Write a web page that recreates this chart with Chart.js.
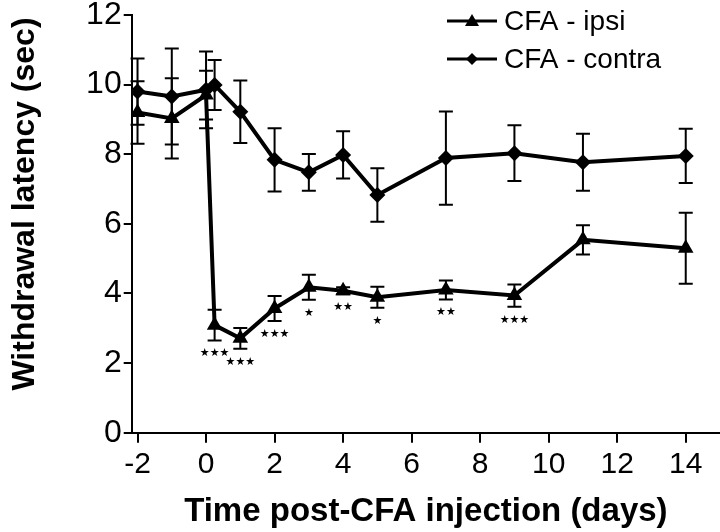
<!DOCTYPE html>
<html>
<head>
<meta charset="utf-8">
<script src="https://cdn.jsdelivr.net/npm/chart.js@4"></script>
<style>
  html, body { margin: 0; padding: 0; background: #fff; }
  canvas { display: block; }
</style>
</head>
<body>
<canvas id="chart" width="720" height="532"></canvas>
<script>
// days relative to CFA injection
const xDays = [-2, -1, 0, 0.25, 1, 2, 3, 4, 5, 7, 9, 11, 14];
const ipsiMean = [9.2, 9.03, 9.7, 3.09, 2.71, 3.57, 4.18, 4.08, 3.89, 4.1, 3.94, 5.54, 5.3];
const ipsiSem = [0.9, 1.15, 0.7, 0.44, 0.3, 0.36, 0.36, 0.1, 0.3, 0.27, 0.32, 0.42, 1.02];
const contraMean = [9.8, 9.66, 9.85, 9.99, 9.22, 7.84, 7.48, 7.98, 6.83, 7.89, 8.03, 7.77, 7.95];
const contraSem = [0.95, 1.38, 1.1, 0.72, 0.9, 0.91, 0.53, 0.68, 0.77, 1.34, 0.8, 0.82, 0.78];
const ipsiStars = ['', '', '', '***', '***', '***', '*', '**', '*', '**', '***', '', ''];
const xTicks = [-2, 0, 2, 4, 6, 8, 10, 12, 14];
const seriesNames = ['CFA - ipsi', 'CFA - contra'];

const FONT = 'Liberation Sans, Arial, Helvetica, sans-serif';

const toPoints = (ys) => xDays.map((x, i) => ({ x, y: ys[i] }));

// error bars + significance stars
const errorBars = {
    id: 'errorBars',
    afterDatasetsDraw(chart) {
        const { ctx, scales: { x, y } } = chart;
        const sets = [[ipsiMean, ipsiSem], [contraMean, contraSem]];
        ctx.save();
        ctx.strokeStyle = '#000';
        ctx.lineWidth = 2;
        sets.forEach(([mean, sem]) => {
            mean.forEach((m, i) => {
                const px = x.getPixelForValue(xDays[i]);
                const top = y.getPixelForValue(m + sem[i]);
                const bot = y.getPixelForValue(m - sem[i]);
                ctx.beginPath();
                ctx.moveTo(px, top); ctx.lineTo(px, bot);
                ctx.moveTo(px - 7, top); ctx.lineTo(px + 7, top);
                ctx.moveTo(px - 7, bot); ctx.lineTo(px + 7, bot);
                ctx.stroke();
            });
        });
        ctx.fillStyle = '#000';
        ctx.font = '11px DejaVu Sans';
        ctx.textAlign = 'center';
        ctx.textBaseline = 'middle';
        ipsiStars.forEach((s, i) => {
            if (!s) return;
            const px = x.getPixelForValue(xDays[i]);
            const py = y.getPixelForValue(ipsiMean[i] - ipsiSem[i]) + 13;
            ctx.fillText(s.replace(/\*/g, '\u2605'), px, py);
        });
        ctx.restore();
    }
};

// y title and line+marker legend
const extras = {
    id: 'extras',
    afterDraw(chart) {
        const { ctx } = chart;
        ctx.save();
        ctx.fillStyle = '#000';
        ctx.font = 'bold 32px ' + FONT;
        ctx.textAlign = 'center';
        ctx.textBaseline = 'middle';
        ctx.translate(25, 204);
        ctx.rotate(-Math.PI / 2);
        ctx.fillText('Withdrawal latency (sec)', 0, 0);
        ctx.restore();

        ctx.save();
        ctx.strokeStyle = '#000';
        ctx.fillStyle = '#000';
        const rows = [21, 59];
        rows.forEach((ry, k) => {
            ctx.lineWidth = 3;
            ctx.beginPath();
            ctx.moveTo(447, ry); ctx.lineTo(497, ry);
            ctx.stroke();
            const cx = 472;
            ctx.beginPath();
            if (k === 0) {
                ctx.moveTo(cx, ry - 7); ctx.lineTo(cx + 7, ry + 5); ctx.lineTo(cx - 7, ry + 5);
            } else {
                ctx.moveTo(cx, ry - 6); ctx.lineTo(cx + 6, ry); ctx.lineTo(cx, ry + 6); ctx.lineTo(cx - 6, ry);
            }
            ctx.closePath();
            ctx.fill();
            ctx.font = '28px ' + FONT;
            ctx.textAlign = 'left';
            ctx.textBaseline = 'middle';
            ctx.fillText(seriesNames[k], 504, ry + 1);
        });
        ctx.restore();
    }
};

new Chart(document.getElementById('chart'), {
    type: 'line',
    data: {
        datasets: [{
            label: seriesNames[0],
            data: toPoints(ipsiMean),
            borderColor: '#000',
            backgroundColor: '#000',
            borderWidth: 4,
            pointStyle: 'triangle',
            pointRadius: 9,
            pointBorderWidth: 0,
            tension: 0
        }, {
            label: seriesNames[1],
            data: toPoints(contraMean),
            borderColor: '#000',
            backgroundColor: '#000',
            borderWidth: 4,
            pointStyle: 'rectRot',
            pointRadius: 8,
            pointBorderWidth: 0,
            tension: 0
        }]
    },
    options: {
        responsive: false,
        animation: false,
        devicePixelRatio: 1,
        layout: { autoPadding: false, padding: { top: 15, right: 0, left: 0, bottom: 0 } },
        plugins: {
            legend: { display: false },
            tooltip: { enabled: false }
        },
        scales: {
            x: {
                type: 'linear',
                min: -2.17,
                max: 15,
                afterBuildTicks: (s) => { s.ticks = xTicks.map(v => ({ value: v })); },
                afterFit: (s) => { s.height = 99.3; s.paddingLeft = 0; s.paddingRight = 0; },
                grid: { drawOnChartArea: false, drawTicks: true, tickLength: 10, color: '#000', lineWidth: 2 },
                border: { color: '#000', width: 2 },
                ticks: { color: '#000', font: { family: FONT, size: 30 }, padding: 4, maxRotation: 0, autoSkip: false },
                title: {
                    display: true,
                    text: 'Time post-CFA injection (days)',
                    color: '#000',
                    font: { family: FONT, size: 33, weight: 'bold' },
                    padding: { top: 0, bottom: 0 }
                }
            },
            y: {
                min: 0,
                max: 12,
                afterFit: (s) => { s.width = 131.7; s.paddingTop = 0; s.paddingBottom = 0; },
                grid: { drawOnChartArea: false, drawTicks: true, tickLength: 8, color: '#000', lineWidth: 2 },
                border: { color: '#000', width: 2 },
                ticks: { stepSize: 2, color: '#000', font: { family: FONT, size: 32 }, padding: 2 }
            }
        }
    },
    plugins: [errorBars, extras]
});
</script>
</body>
</html>
